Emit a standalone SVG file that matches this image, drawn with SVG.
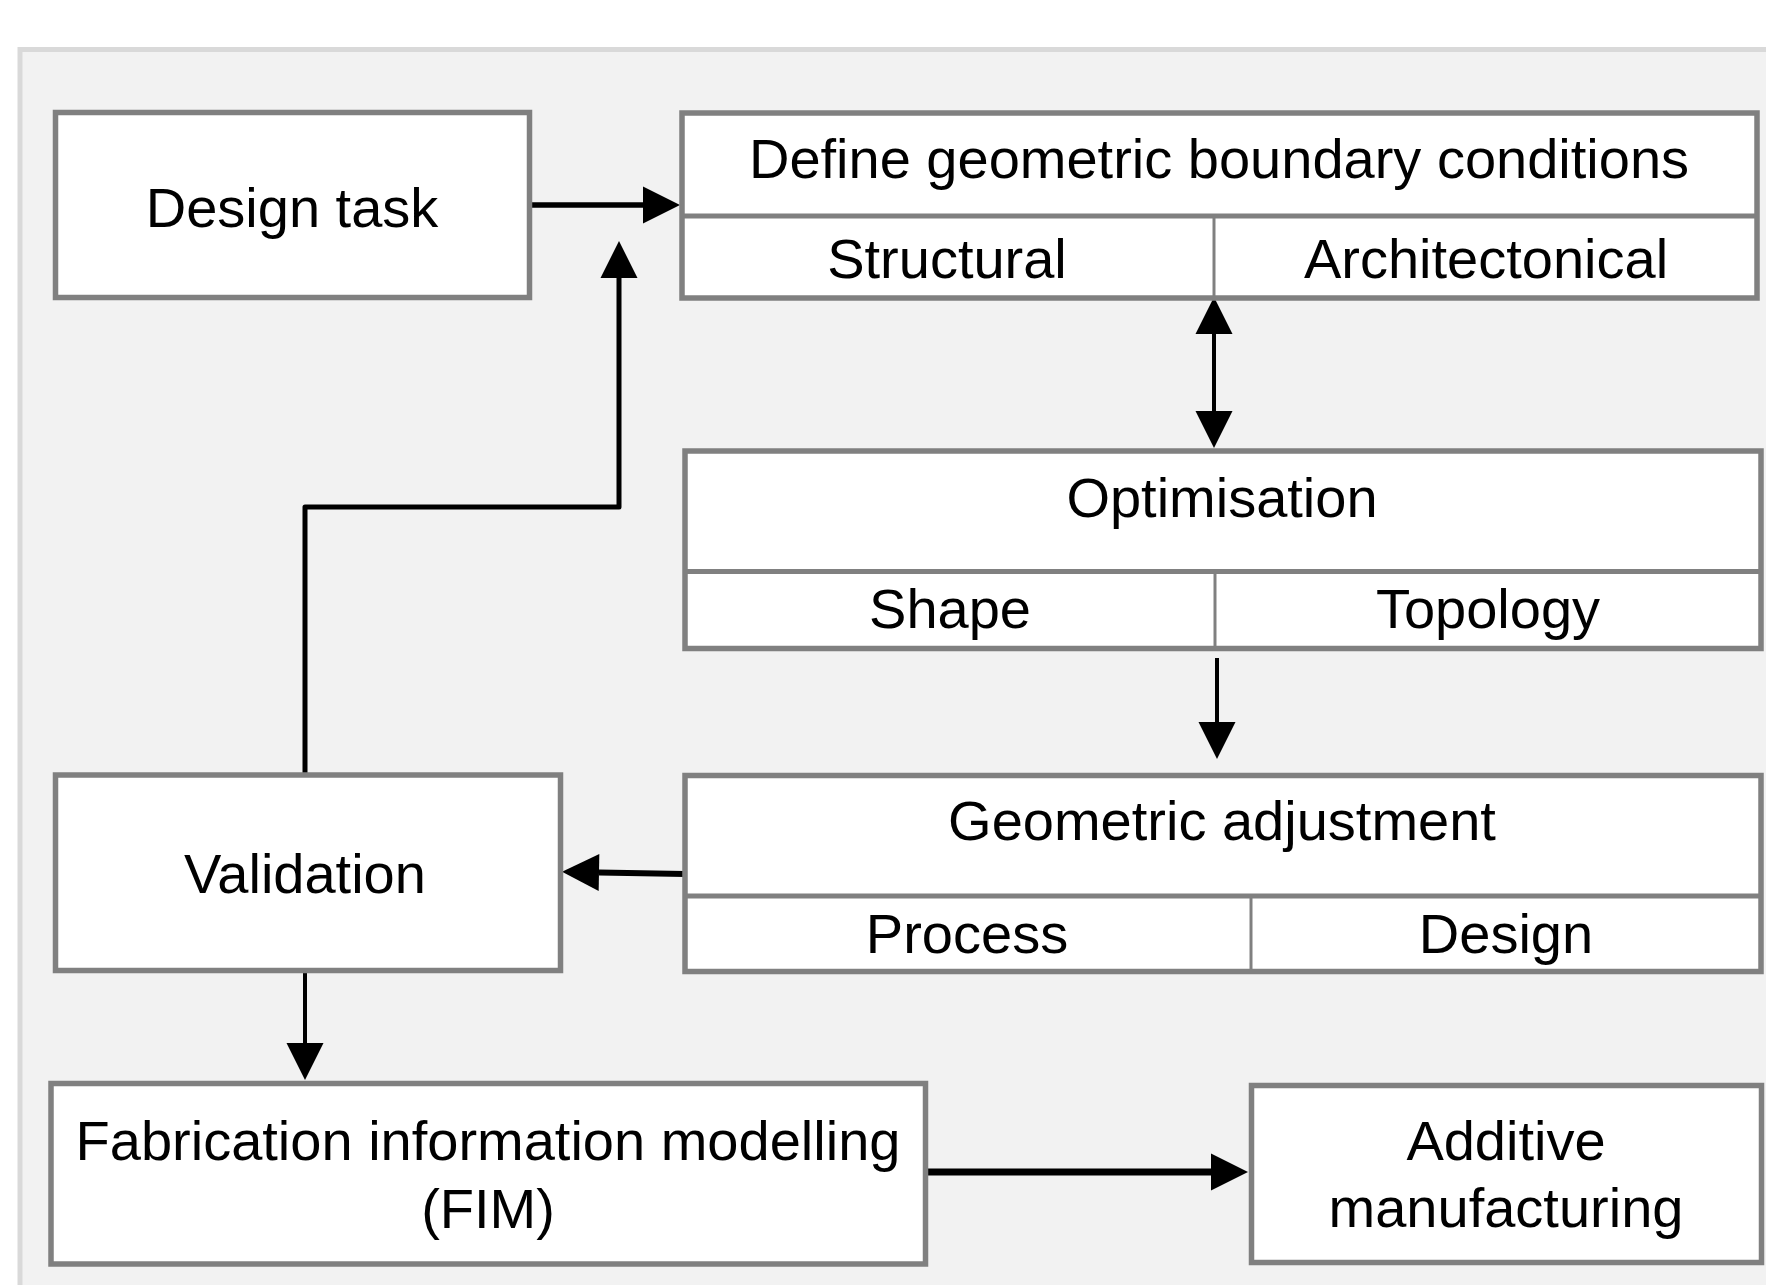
<svg xmlns="http://www.w3.org/2000/svg" width="1766" height="1285" viewBox="0 0 1766 1285">
<style>
.box{fill:#ffffff;stroke:#808080;stroke-width:5.5}
.div{stroke:#808080;stroke-width:5}
.vdiv{stroke:#808080;stroke-width:3}
.t{font-family:"Liberation Sans",Arial,sans-serif;font-size:56px;fill:#000;text-anchor:middle}
.c{stroke:#000;fill:none;stroke-linejoin:round}
</style>
<defs>
<marker id="ah" markerUnits="userSpaceOnUse" markerWidth="40" markerHeight="40" viewBox="0 0 40 40" refX="0" refY="20" orient="auto-start-reverse" overflow="visible">
<path d="M0,1.5 L37,20 L0,38.5 z" fill="#000"/>
</marker>
</defs>
<rect x="20" y="49.5" width="1770" height="1260" fill="#f2f2f2" stroke="#d9d9d9" stroke-width="5"/>

<g id="connectors">
<path class="c" stroke-width="5.5" d="M530,205 L643,205" marker-end="url(#ah)"/>
<path class="c" stroke-width="5" d="M305,773 L305,507 L619,507 L619,278" marker-end="url(#ah)"/>
<path class="c" stroke-width="4" d="M1214,334 L1214,411" marker-start="url(#ah)" marker-end="url(#ah)"/>
<path class="c" stroke-width="4" d="M1217,658 L1217,722" marker-end="url(#ah)"/>
<path class="c" stroke-width="6" d="M685,874 L599,872.5" marker-end="url(#ah)"/>
<path class="c" stroke-width="4" d="M305,971 L305,1043" marker-end="url(#ah)"/>
<path class="c" stroke-width="7" d="M926,1172 L1211,1172" marker-end="url(#ah)"/>
</g>

<g id="design-task">
<rect class="box" x="55.5" y="112.5" width="474" height="185"/>
<text class="t" x="292" y="227">Design task</text>
</g>

<g id="define-boundary">
<rect class="box" x="682" y="113" width="1075" height="185"/>
<line class="div" x1="682" y1="216" x2="1757" y2="216"/>
<line class="vdiv" x1="1214" y1="216" x2="1214" y2="298"/>
<text class="t" x="1219" y="178">Define geometric boundary conditions</text>
<text class="t" x="947" y="278">Structural</text>
<text class="t" x="1486" y="278">Architectonical</text>
</g>

<g id="optimisation">
<rect class="box" x="685" y="451" width="1076" height="197.5"/>
<line class="div" x1="685" y1="571.5" x2="1761" y2="571.5"/>
<line class="vdiv" x1="1215" y1="571.5" x2="1215" y2="648.5"/>
<text class="t" x="1222" y="517">Optimisation</text>
<text class="t" x="950" y="628">Shape</text>
<text class="t" x="1488" y="628">Topology</text>
</g>

<g id="geometric-adjustment">
<rect class="box" x="685" y="775.5" width="1076" height="196"/>
<line class="div" x1="685" y1="896" x2="1761" y2="896"/>
<line class="vdiv" x1="1251" y1="896" x2="1251" y2="971.5"/>
<text class="t" x="1222" y="840">Geometric adjustment</text>
<text class="t" x="967" y="953">Process</text>
<text class="t" x="1506" y="953">Design</text>
</g>

<g id="validation">
<rect class="box" x="55.5" y="775" width="505" height="195.5"/>
<text class="t" x="305" y="893">Validation</text>
</g>

<g id="fim">
<rect class="box" x="51" y="1083.5" width="874.5" height="180.5"/>
<text class="t" x="488" y="1160">Fabrication information modelling</text>
<text class="t" x="488" y="1228">(FIM)</text>
</g>

<g id="additive-manufacturing">
<rect class="box" x="1251.5" y="1085.5" width="510" height="177"/>
<text class="t" x="1506" y="1160">Additive</text>
<text class="t" x="1506" y="1227">manufacturing</text>
</g>
</svg>
